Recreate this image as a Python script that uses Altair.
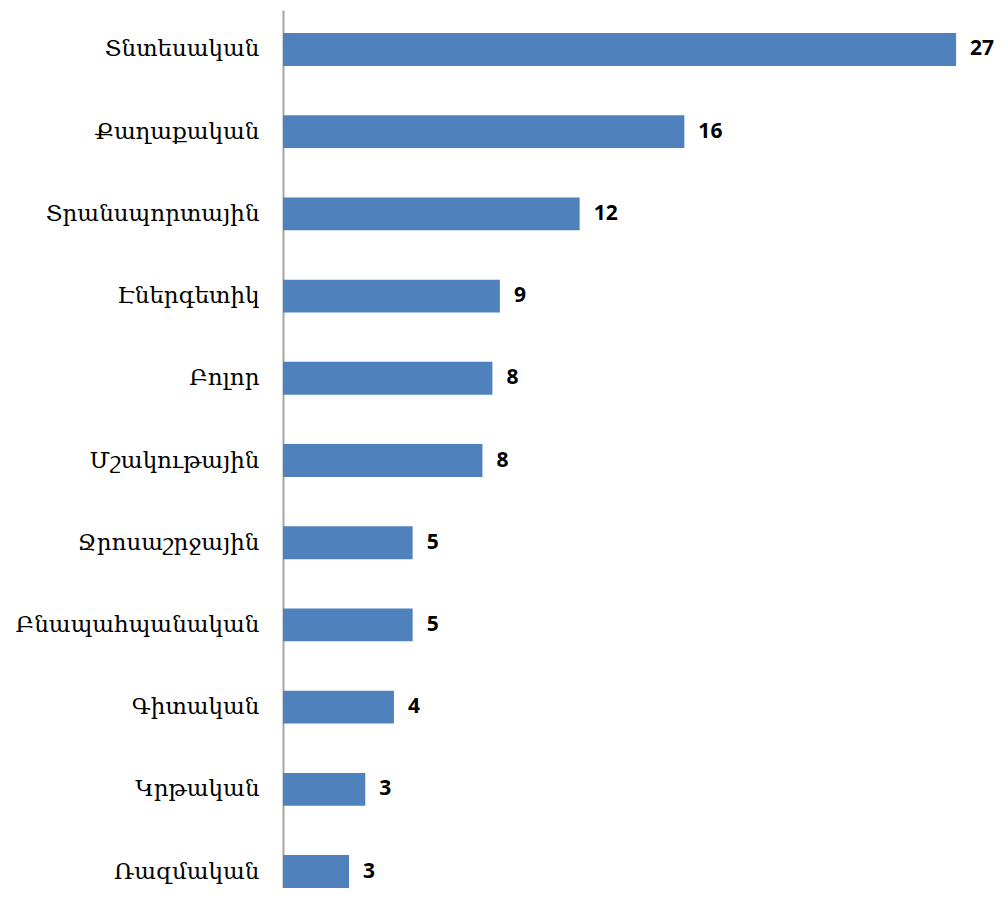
import altair as alt
import pandas as pd

categories = ["Տնտեսական", "Քաղաքական", "Տրանսպորտային", "Էներգետիկ", "Բոլոր",
              "Մշակութային", "Ջրոսաշրջային", "Բնապահպանական", "Գիտական", "Կրթական", "Ռազմական"]
values = [27.0, 16.1, 11.9, 8.7, 8.4, 8.0, 5.2, 5.2, 4.45, 3.3, 2.65]

df = pd.DataFrame({"cat": categories, "val": values})

PX_PER_UNIT = 24.93
W = 693
H = 878

y = alt.Y("cat:N", sort=categories, title=None,
          scale=alt.Scale(paddingInner=0.6, paddingOuter=0.14, align=1, round=False),
          axis=alt.Axis(ticks=False, labelFont="DejaVu Serif", labelFontSize=23, labelLimit=0,
                        labelColor="#000000", labelPadding=24, domainColor="#a6a6a6",
                        domainWidth=2, grid=False))
x = alt.X("val:Q", title=None, scale=alt.Scale(domain=[0, W / PX_PER_UNIT], nice=False, zero=True),
          axis=None)

bars = alt.Chart(df).mark_bar(color="#4F81BD").encode(x=x, y=y)
labels = alt.Chart(df).mark_text(align="left", baseline="middle", dx=14, font="Open Sans",
                                 fontWeight="bold", fontSize=21, color="#000000").encode(
    x=x, y=y, text=alt.Text("val:Q", format=".0f"))

chart = (bars + labels).properties(
    width=W, height=H,
    autosize=alt.AutoSizeParams(type="none"),
    padding={"left": 275, "top": 2, "right": 19, "bottom": 0},
).configure_view(stroke=None)

chart.save("out.html", embed_options={"renderer": "svg", "actions": False})
